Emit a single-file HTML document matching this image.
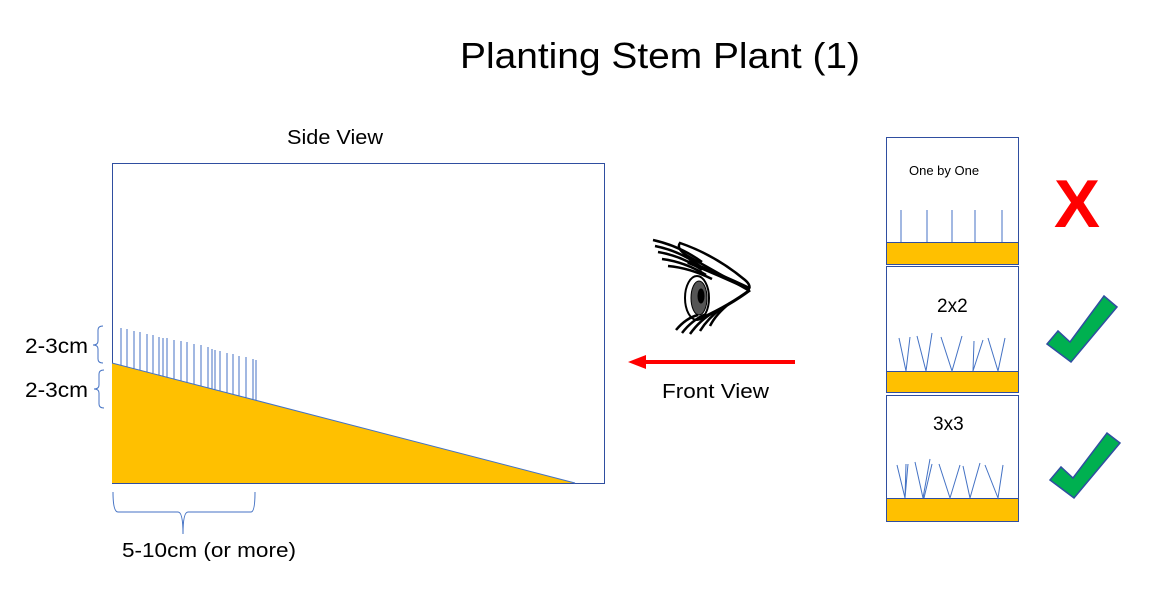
<!DOCTYPE html>
<html><head><meta charset="utf-8"><style>
html,body{margin:0;padding:0;background:#fff;}
svg{display:block;font-family:"Liberation Sans",sans-serif;}
</style></head><body>
<svg width="1164" height="609" viewBox="0 0 1164 609" xmlns="http://www.w3.org/2000/svg">
<text x="460" y="68" font-size="36" textLength="400" lengthAdjust="spacingAndGlyphs" fill="#000">Planting Stem Plant (1)</text>
<text x="287" y="144" font-size="20" textLength="96" lengthAdjust="spacingAndGlyphs">Side View</text>
<rect x="112.5" y="163.5" width="492" height="320" fill="#fff" stroke="#2f4ea0" stroke-width="1"/>
<polygon points="112,363 575,483 112,483" fill="#ffc000"/>
<line x1="112" y1="363" x2="575" y2="483" stroke="#4472c4" stroke-width="1"/>
<g stroke="#4472c4" stroke-width="1">
<line x1="121" y1="328" x2="121" y2="365"/>
<line x1="127" y1="329" x2="127" y2="367"/>
<line x1="134" y1="331" x2="134" y2="369"/>
<line x1="140" y1="332" x2="140" y2="370"/>
<line x1="147" y1="334" x2="147" y2="372"/>
<line x1="153" y1="335" x2="153" y2="373"/>
<line x1="159" y1="337" x2="159" y2="375"/>
<line x1="163" y1="338" x2="163" y2="376"/>
<line x1="167" y1="338" x2="167" y2="377"/>
<line x1="174" y1="340" x2="174" y2="379"/>
<line x1="181" y1="341" x2="181" y2="381"/>
<line x1="187" y1="342" x2="187" y2="382"/>
<line x1="194" y1="344" x2="194" y2="384"/>
<line x1="201" y1="345" x2="201" y2="386"/>
<line x1="208" y1="347" x2="208" y2="388"/>
<line x1="212" y1="349" x2="212" y2="389"/>
<line x1="215" y1="350" x2="215" y2="390"/>
<line x1="220" y1="351" x2="220" y2="391"/>
<line x1="227" y1="353" x2="227" y2="393"/>
<line x1="233" y1="354" x2="233" y2="394"/>
<line x1="239" y1="356" x2="239" y2="396"/>
<line x1="246" y1="357" x2="246" y2="398"/>
<line x1="253" y1="359" x2="253" y2="399"/>
<line x1="256" y1="360" x2="256" y2="400"/>
</g>
<g fill="none" stroke="#4472c4" stroke-width="1">
<path d="M103,326 Q98,326 98,330 L98,341 Q98,345 93,345 Q98,345 98,349 L98,359 Q98,363 103,363"/>
<path d="M104,370 Q99,370 99,374 L99,385 Q99,389 94,389 Q99,389 99,393 L99,404 Q99,408 104,408"/>
<path d="M113,492 Q113,512 118,512 L178,512 Q183,512 183,534 Q183,512 188,512 L251,512 Q255,512 255,492"/>
</g>
<text x="25" y="353" font-size="21" textLength="63" lengthAdjust="spacingAndGlyphs">2-3cm</text>
<text x="25" y="397" font-size="21" textLength="63" lengthAdjust="spacingAndGlyphs">2-3cm</text>
<text x="122" y="557" font-size="20" textLength="174" lengthAdjust="spacingAndGlyphs">5-10cm (or more)</text>
<g stroke="#000" fill="none">
<path d="M680,243 Q676,248 686,255 L748,290 Q752,286 745,280 Q715,255 680,243 Z" stroke-width="2.5" fill="#fff"/>
<path d="M688,262 Q720,275 750,289" stroke-width="4"/>
<path d="M686,292 Q690,322 702,318 Q730,305 750,290" stroke-width="3"/>
<ellipse cx="697" cy="298" rx="12" ry="22" stroke-width="2" fill="#fff"/>
<ellipse cx="699" cy="298" rx="8" ry="17" stroke-width="1" fill="#555"/>
<ellipse cx="701" cy="296" rx="3" ry="7" fill="#000"/>
<g stroke-width="2.5">
<path d="M653,240 Q680,246 702,262"/>
<path d="M655,246 Q680,251 700,266"/>
<path d="M658,252 Q682,256 702,270"/>
<path d="M662,259 Q685,262 706,275"/>
<path d="M668,266 Q690,268 712,279"/>
<path d="M676,330 Q686,318 698,315"/>
<path d="M682,333 Q692,320 706,314"/>
<path d="M690,334 Q700,320 714,312"/>
<path d="M700,331 Q708,318 722,308"/>
<path d="M710,326 Q716,314 730,303"/>
</g>
</g>
<line x1="795" y1="362" x2="642" y2="362" stroke="#ff0000" stroke-width="4"/>
<polygon points="628,362 646,355 646,369" fill="#ff0000"/>
<text x="662" y="398" font-size="20" textLength="107" lengthAdjust="spacingAndGlyphs">Front View</text>
<g stroke="#2f4ea0" stroke-width="1">
<rect x="886.5" y="137.5" width="132" height="127" fill="#fff"/>
<rect x="886.5" y="242.5" width="132" height="22" fill="#ffc000"/>
<rect x="886.5" y="266.5" width="132" height="126" fill="#fff"/>
<rect x="886.5" y="371.5" width="132" height="21" fill="#ffc000"/>
<rect x="886.5" y="395.5" width="132" height="126" fill="#fff"/>
<rect x="886.5" y="498.5" width="132" height="23" fill="#ffc000"/>
</g>
<text x="909" y="175" font-size="13">One by One</text>
<text x="937" y="312" font-size="19">2x2</text>
<text x="933" y="430" font-size="19">3x3</text>
<g stroke="#4472c4" stroke-width="1" fill="none">
<path d="M901,210 V242 M927,210 V242 M952,210 V242 M975,210 V242 M1002,210 V242"/>
<path d="M899,338 L906,371 L910,337 M917,336 L926,371 L932,333 M941,337 L952,371 L962,336 M974,341 L973,371 L983,340 M988,338 L998,371 L1005,338"/>
<path d="M897,465 L905,498 L908,464 M906,464 L905,498 M915,462 L923,498 L930,459 M932,464 L924,498 M939,464 L950,498 L960,465 M963,466 L970,498 L980,463 M985,465 L998,498 L1003,465 M1003,465 L998,498"/>
</g>
<text x="1054" y="227" font-size="68" font-weight="bold" fill="#ff0000" textLength="46" lengthAdjust="spacingAndGlyphs">X</text>
<polygon points="1047,344 1058,331 1070,342 1104,296 1117,307 1071,362" fill="#00b050" stroke="#2f4ea0" stroke-width="1.5"/>
<polygon points="1050,480 1061,467 1073,478 1107,433 1120,443 1074,498" fill="#00b050" stroke="#2f4ea0" stroke-width="1.5"/>
</svg>
</body></html>
